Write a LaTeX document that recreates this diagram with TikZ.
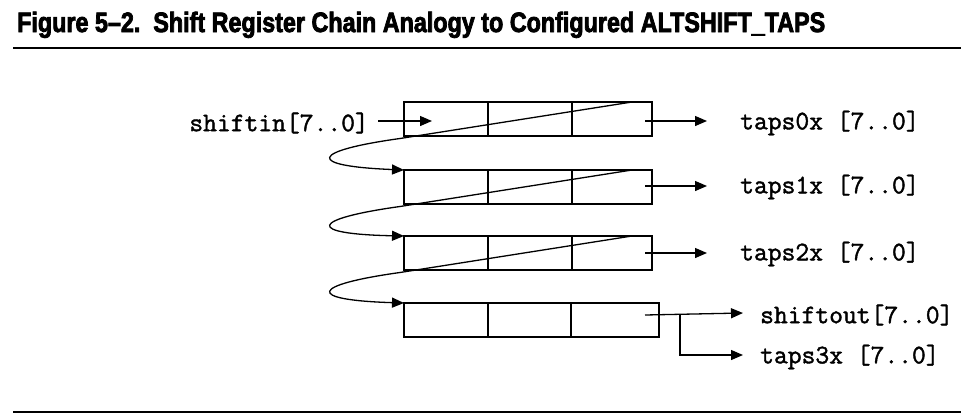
\documentclass[tikz,border=0pt]{standalone}
\usepackage{fontspec}
\setmainfont{Liberation Sans}
\newfontfamily\titlefont[FakeBold=3]{Liberation Sans Bold}
\newfontfamily\monofont[FakeBold=1.5]{Latin Modern Mono}
\usetikzlibrary{arrows.meta}
\begin{document}
\begin{tikzpicture}[x=1pt,y=-1pt,
  cell/.style={draw, line width=1.3pt, inner sep=0pt, outer sep=0pt, minimum height=34pt},
  wire/.style={line width=1.3pt},
  arr/.style={wire, -{Triangle[length=12pt,width=10pt]}},
  lbl/.style={font=\monofont\fontsize{26.8}{28}\selectfont, inner sep=0pt, anchor=west},
  rule/.style={line width=2.6pt}]
\useasboundingbox (0,0) rectangle (961,418);
% title
\node[anchor=base west, inner sep=0pt] (title) at (17,32)
  {\resizebox{808pt}{\height}{\titlefont\fontsize{28}{32}\selectfont Figure 5–2.\ \ Shift Register Chain Analogy to Configured ALTSHIFT\_TAPS}};
\coordinate (rl1) at (13,48); \coordinate (rr1) at (961,48);
\coordinate (rl2) at (13,412); \coordinate (rr2) at (961,412);
\draw[rule] (rl1) -- (rr1);
\draw[rule] (rl2) -- (rr2);
% register rows
\foreach \r/\y in {0/119,1/187,2/253}{
  \node[cell, minimum width=84pt] (r\r c1) at (446,\y) {};
  \node[cell, minimum width=84pt] (r\r c2) at (530,\y) {};
  \node[cell, minimum width=80pt] (r\r c3) at (612,\y) {};
}
\node[cell, minimum width=84pt] (r3c1) at (446,320) {};
\node[cell, minimum width=83pt] (r3c2) at (529.5,320) {};
\node[cell, minimum width=88pt] (r3c3) at (615,320) {};
% diagonal chain links
\foreach \r/\t/\n in {0/102/1, 1/170/2, 2/236/3}{
  \draw[arr] (632,\t) -- (400,\t+36.5) .. controls (310,\t+49) and (305,\t+64) .. (r\n c1.north west);
}
% input
\node[lbl, anchor=east] (sin) at (369,123) {shiftin[7..0]};
\coordinate (sinA) at (378,121);
\coordinate (sinB) at (432,121);
\draw[arr] (sinA) -- (sinB);
% tap outputs
\node[lbl] (t0) at (740,123) {taps0x [7..0]};
\node[lbl] (t1) at (740,187) {taps1x [7..0]};
\node[lbl] (t2) at (740,254) {taps2x [7..0]};
\foreach \i/\y in {0/121,1/186,2/253}{
  \coordinate (o\i) at (645,\y);
  \coordinate (e\i) at (707,\y);
  \draw[arr] (o\i) -- (e\i);
}
% last row outputs
\node[lbl] (sout) at (760,315) {shiftout[7..0]};
\node[lbl] (t3) at (760,357) {taps3x [7..0]};
\coordinate (o3) at (645,315);
\coordinate (br) at (680,314.4);
\coordinate (bk) at (680,355);
\coordinate (e3) at (743,313);
\coordinate (e4) at (743,355);
\draw[arr] (o3) -- (e3);
\draw[arr] (br) -- (bk) -- (e4);
\end{tikzpicture}
\end{document}
